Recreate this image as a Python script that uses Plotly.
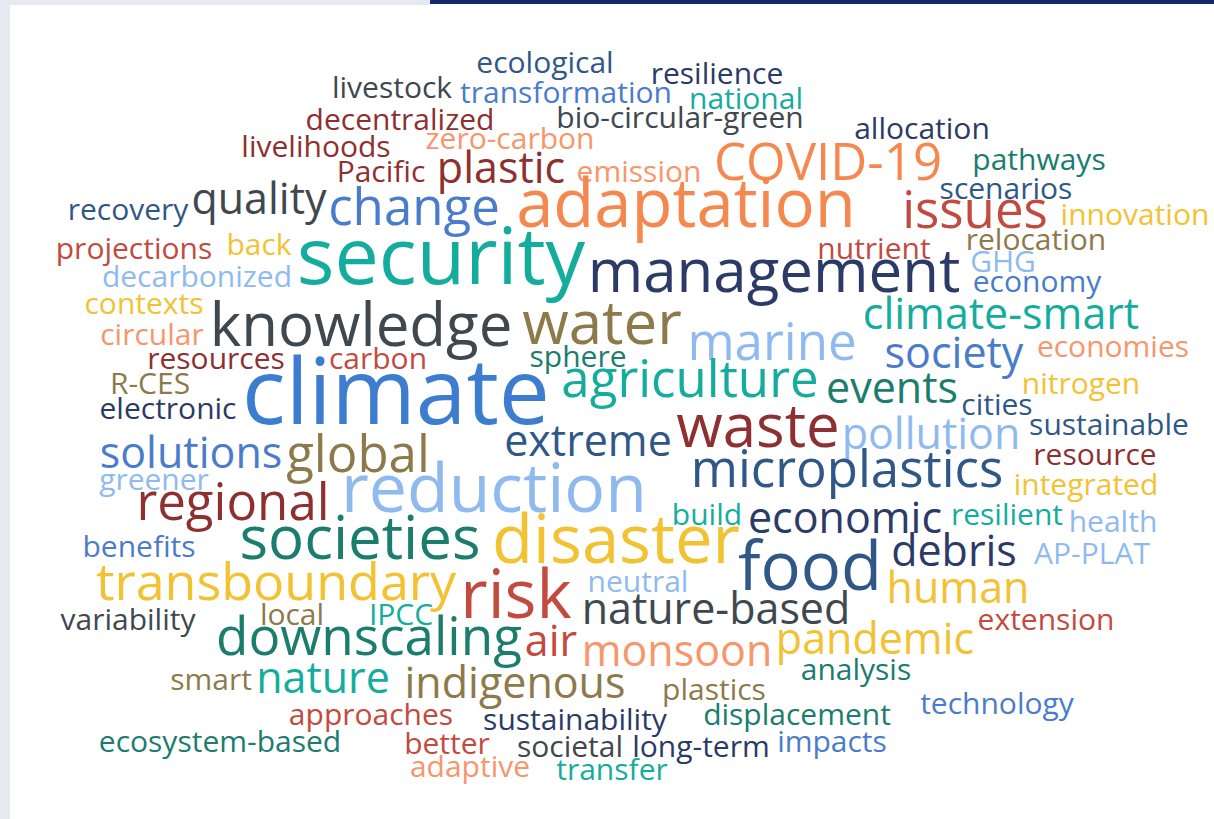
import plotly.graph_objects as go

# ---- data: words and their weights (rendered font size in px) ----
words = ["ecological","resilience","livestock","transformation","national","decentralized",
         "bio-circular-green","allocation","zero-carbon","livelihoods","Pacific","plastic",
         "emission","COVID-19","pathways","scenarios","recovery","quality","change","adaptation",
         "issues","innovation","projections","back","security","management","nutrient",
         "relocation","GHG","economy","decarbonized","contexts","knowledge","water",
         "climate-smart","marine","society","economies","circular","resources","carbon","sphere",
         "agriculture","R-CES","electronic","climate","events","nitrogen","cities","sustainable",
         "waste","pollution","extreme","solutions","global","greener","resource","microplastics",
         "reduction","regional","integrated","build","economic","resilient","health","benefits",
         "societies","disaster","food","debris","AP-PLAT","transboundary","risk","neutral","human",
         "nature-based","variability","local","IPCC","extension","downscaling","air","monsoon",
         "pandemic","smart","nature","indigenous","analysis","plastics","technology","approaches",
         "sustainability","displacement","ecosystem-based","better","societal","long-term",
         "impacts","adaptive","transfer"]

weights = [30,30,30,30,30,30,
           30,30,30,30,30,43,
           30,51,30,30,30,43,51,67,
           51,30,30,30,79,60,30,
           30,30,30,30,30,60,60,
           43,51,43,30,30,30,30,30,
           51,30,30,91,43,30,30,30,
           60,43,43,43,51,30,30,51,
           68,51,30,30,43,30,30,30,
           60,67,67,43,30,52,67,30,43,
           43,30,30,30,30,53,43,43,
           43,30,43,43,30,30,30,30,
           30,30,30,30,30,30,
           30,30,30]

# ---- layout of the cloud (pixel positions of word centres) ----
pos_x = [545,717,392,566,746,400,
         680,922,510,316,381,501,
         639,828,1039,1006,128,259,414,686,
         975,1135,134,259,441,774,874,
         1036,1003,1037,197,144,361,602,
         1001,772,954,1113,152,216,378,578,
         690,150,168,396,892,1081,997,1109,
         758,931,588,191,358,154,1095,847,
         494,233,1086,707,845,1007,1113,139,
         360,616,810,954,1092,276,516,638,958,
         716,128,292,401,1046,369,551,677,
         875,211,323,515,856,714,997,371,
         575,797,220,447,570,701,
         832,470,612]
pos_y = [60.5,71.5,85.5,90.5,96.5,117.5,
         115.5,126.5,136.5,144.5,169.5,167,
         169.5,162,157.5,186.5,207.5,198,207,205.5,
         210.5,212.5,246.5,242.5,259,272,246.5,
         237.5,259.5,279.5,274.5,301.5,326,324,
         313,342,352,344.5,332.5,356.5,356.5,354.5,
         379,381.5,406.5,396,387,381.5,402.5,422.5,
         427,433,440,452,454,477.5,452.5,469,
         489.5,502,482.5,512.5,517,512.5,519.5,544.5,
         539,541.5,568.5,550,551.5,582,596.5,579.5,587,
         608,617.5,612.5,612.5,617.5,637,640,650,
         638,677.5,677,682,667.5,687.5,701.5,712.5,
         717.5,712.5,739.5,741.5,744.5,744.5,
         739.5,764.5,767.5]
y_shift = 5  # baseline correction between glyph centre and text anchor

NAVY = "#2b3a67"; GRAY = "#40484f"; BLUE = "#4a7ccb"; LBLUE = "#8fbaf0"
TEAL = "#14ad9d"; DTEAL = "#1b7d6e"; SALMON = "#f7966a"; ORANGE = "#f5884f"
GOLD = "#f3c232"; OLIVE = "#8d7a4a"; RED = "#c34a3e"; DRED = "#8e3030"
SLATE = "#2f5888"; CLIM = "#3d7dd0"

colors = [SLATE,NAVY,GRAY,BLUE,TEAL,DRED,
          GRAY,NAVY,SALMON,DRED,DRED,DRED,
          SALMON,ORANGE,DTEAL,SLATE,SLATE,GRAY,BLUE,ORANGE,
          RED,GOLD,RED,GOLD,TEAL,NAVY,RED,
          OLIVE,LBLUE,BLUE,LBLUE,GOLD,GRAY,OLIVE,
          TEAL,LBLUE,BLUE,SALMON,SALMON,DRED,RED,DTEAL,
          TEAL,OLIVE,NAVY,CLIM,DTEAL,GOLD,SLATE,SLATE,
          DRED,LBLUE,SLATE,BLUE,OLIVE,LBLUE,DRED,SLATE,
          LBLUE,DRED,GOLD,TEAL,NAVY,TEAL,LBLUE,BLUE,
          DTEAL,GOLD,SLATE,NAVY,LBLUE,GOLD,RED,LBLUE,GOLD,
          GRAY,GRAY,OLIVE,TEAL,RED,DTEAL,RED,SALMON,
          GOLD,OLIVE,TEAL,OLIVE,DTEAL,OLIVE,BLUE,RED,
          NAVY,DTEAL,DTEAL,RED,GRAY,NAVY,
          BLUE,SALMON,TEAL]

fig = go.Figure(go.Scatter(
    x=pos_x, y=[v + y_shift for v in pos_y], mode="text", text=words,
    textposition="middle center",
    textfont=dict(family="Open Sans", size=weights, color=colors),
    hoverinfo="text"))

W, H = 1214, 819
fig.update_layout(
    width=W, height=H, autosize=False,
    margin=dict(l=0, r=0, t=0, b=0),
    paper_bgcolor="white", plot_bgcolor="white",
    showlegend=False,
    xaxis=dict(range=[0, W], visible=False, fixedrange=True),
    yaxis=dict(range=[H, 0], visible=False, fixedrange=True),
    shapes=[
        dict(type="rect", xref="paper", yref="paper", x0=0, x1=10/W, y0=0, y1=1,
             fillcolor="#e6e9f0", line_width=0, layer="below"),
        dict(type="rect", xref="paper", yref="paper", x0=0, x1=430/W, y0=1-5/H, y1=1,
             fillcolor="#e6e9f0", line_width=0, layer="below"),
        dict(type="rect", xref="paper", yref="paper", x0=430/W, x1=1, y0=1-4/H, y1=1,
             fillcolor="#142a66", line_width=0, layer="below"),
    ])

fig.write_html("out.html", config={"displayModeBar": False},
               post_script="document.body.style.margin='0px';document.body.style.overflow='hidden';")
